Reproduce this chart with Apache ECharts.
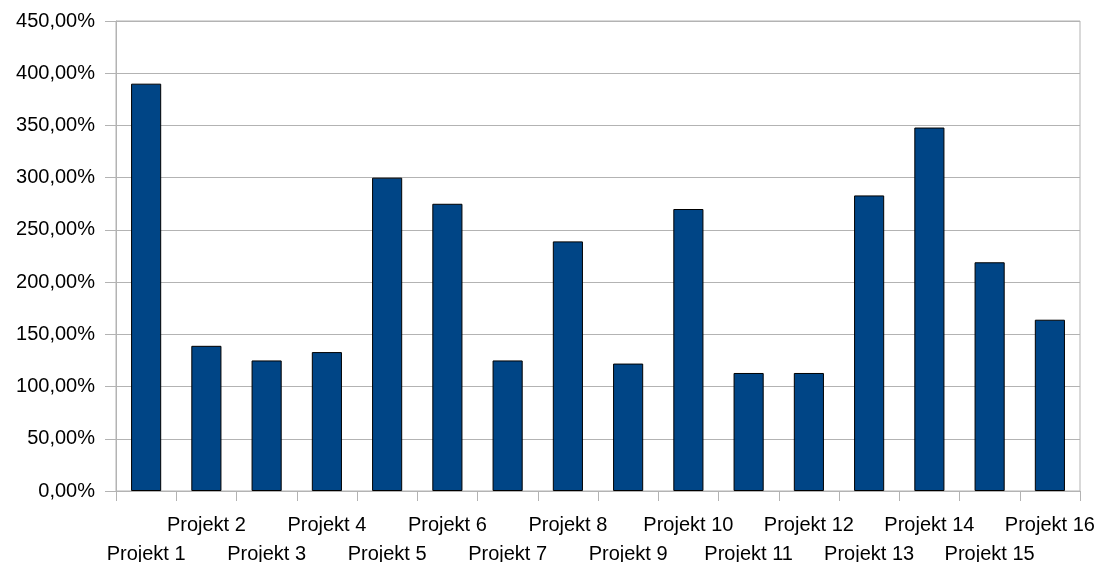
<!DOCTYPE html>
<html>
<head>
<meta charset="utf-8">
<script src="https://cdn.jsdelivr.net/npm/echarts@6/dist/echarts.min.js"></script>
<style>
  html, body { margin: 0; padding: 0; background: #ffffff; }
  #chart { width: 1101px; height: 562px; }
</style>
</head>
<body>
<div id="chart"></div>
<script>
// Project names along the category axis
const categories = [
  'Projekt 1', 'Projekt 2', 'Projekt 3', 'Projekt 4',
  'Projekt 5', 'Projekt 6', 'Projekt 7', 'Projekt 8',
  'Projekt 9', 'Projekt 10', 'Projekt 11', 'Projekt 12',
  'Projekt 13', 'Projekt 14', 'Projekt 15', 'Projekt 16'
];

// Percentage value per project
const values = [390, 139, 125, 133, 300, 275, 125, 239, 122, 270, 113, 113, 283, 348, 219, 164];

// Value axis range and step (percent)
const yMin = 0;
const yMax = 450;
const yStep = 50;

const gray = '#b3b3b3';
const font = 'Liberation Sans, Arial, sans-serif';

const chart = echarts.init(document.getElementById('chart'), null, { renderer: 'canvas' });

chart.setOption({
  animation: false,
  backgroundColor: '#ffffff',
  grid: {
    left: 116, right: 21, top: 21, bottom: 71,
    containLabel: false,
    outerBoundsMode: 'none',
    show: true,
    borderColor: gray,
    borderWidth: 1,
    backgroundColor: 'transparent'
  },
  xAxis: {
    type: 'category',
    data: categories,
    boundaryGap: true,
    axisLine: { lineStyle: { color: gray, width: 1 } },
    axisTick: { show: true, length: 10, lineStyle: { color: gray } },
    axisLabel: {
      interval: 0,
      margin: 20,
      color: '#000000',
      fontFamily: font,
      fontSize: 20,
      lineHeight: 29,
      // alternate labels between two rows so they do not collide
      formatter: function (v, i) { return i % 2 === 0 ? '\n' + v : v; }
    }
  },
  yAxis: {
    type: 'value',
    min: yMin,
    max: yMax,
    interval: yStep,
    axisLine: { show: true, lineStyle: { color: gray, width: 1 } },
    axisTick: { show: true, length: 11, lineStyle: { color: gray } },
    splitLine: { show: true, lineStyle: { color: gray, width: 1 } },
    axisLabel: {
      margin: 21,
      color: '#000000',
      fontFamily: font,
      fontSize: 20,
      formatter: function (v) { return v.toFixed(2).replace('.', ',') + '%'; }
    }
  },
  series: [{
    type: 'bar',
    data: values,
    barWidth: '50%',
    itemStyle: { color: '#004586', borderColor: '#000000', borderWidth: 1 }
  }]
});
</script>
</body>
</html>
